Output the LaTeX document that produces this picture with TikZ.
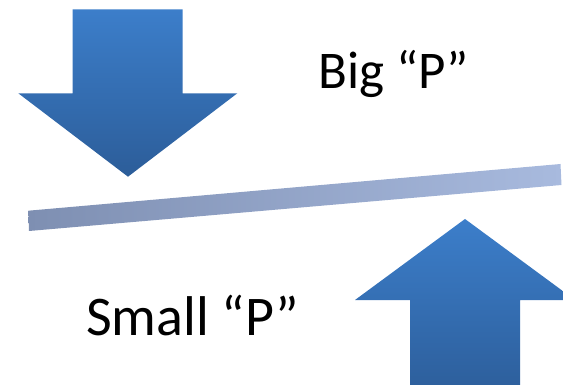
\documentclass[tikz,border=0pt]{standalone}
\usepackage{fontspec}
\setmainfont{Carlito}
\begin{document}
\begin{tikzpicture}[x=1pt,y=-1pt,
  arrowfill/.style={top color=arrtop, bottom color=arrbot, draw=none},
  label/.style={inner sep=0pt, anchor=base west, font=\fontsize{53}{56}\selectfont}]
\definecolor{arrtop}{RGB}{60,126,202}
\definecolor{arrbot}{RGB}{44,93,153}
\definecolor{barl}{RGB}{126,143,178}
\definecolor{barr}{RGB}{168,186,222}
\useasboundingbox (0,0) rectangle (563,385);
\clip (0,0) rectangle (563,385);
% down arrow
\shade[arrowfill] (72.7,9.3) -- (182.7,9.3) -- (182.7,93.3) -- (237.3,93.3)
  -- (128,176.7) -- (18.3,93.3) -- (72.7,93.3) -- cycle;
% up arrow
\shade[arrowfill] (465,219) -- (575,300) -- (520,300) -- (520,400)
  -- (410,400) -- (410,300) -- (355,300) -- cycle;
% bar
\shade[left color=barl, right color=barr] (28.3,210.7) -- (560.5,164) -- (561.5,185) -- (29,231) -- cycle;
% texts
\node[label] (big) at (318,89) {Big “P”};
\node[label, font=\fontsize{56}{58}\selectfont] (small) at (86,335) {Small “P”};
\end{tikzpicture}
\end{document}
